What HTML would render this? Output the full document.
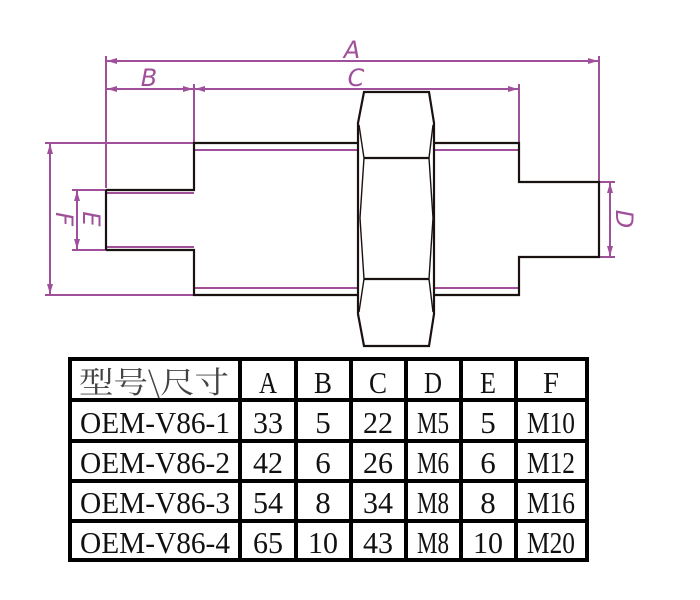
<!DOCTYPE html>
<html><head><meta charset="utf-8"><style>
html,body{margin:0;padding:0;background:#fff;width:700px;height:600px;overflow:hidden}
svg{position:absolute;left:0;top:0}
.t{font-family:"Liberation Serif","Noto Serif CJK SC",serif;font-size:31px;fill:#111;text-anchor:middle}
.d{font-family:"DejaVu Sans","Liberation Sans",sans-serif;font-size:24px;fill:#a0509a;font-style:italic;text-anchor:middle;font-weight:200}
</style></head><body>
<svg width="700" height="600" viewBox="0 0 700 600">
<defs>
<marker id="ar" viewBox="0 0 10 6" refX="10" refY="3" markerWidth="10" markerHeight="6" orient="auto-start-reverse" markerUnits="userSpaceOnUse"><path d="M0,0L10,3L0,6z" fill="#a0509a"/></marker>
</defs>
<g stroke="#a0509a" stroke-width="2" fill="none">
<line x1="106" y1="56" x2="106" y2="188"/>
<line x1="194" y1="84" x2="194" y2="143"/>
<line x1="519" y1="84" x2="519" y2="143"/>
<line x1="599" y1="56" x2="599" y2="182"/>
<line x1="45" y1="143" x2="194" y2="143"/>
<line x1="45" y1="295" x2="194" y2="295"/>
<line x1="72" y1="190" x2="106" y2="190"/>
<line x1="72" y1="250" x2="106" y2="250"/>
<line x1="599" y1="182" x2="615" y2="182"/>
<line x1="599" y1="257" x2="615" y2="257"/>
<line x1="107" y1="61" x2="598" y2="61" marker-start="url(#ar)" marker-end="url(#ar)"/>
<line x1="107" y1="89" x2="193" y2="89" marker-start="url(#ar)" marker-end="url(#ar)"/>
<line x1="195" y1="89" x2="518" y2="89" marker-start="url(#ar)" marker-end="url(#ar)"/>
<line x1="50" y1="144" x2="50" y2="294" marker-start="url(#ar)" marker-end="url(#ar)"/>
<line x1="77" y1="191" x2="77" y2="249" marker-start="url(#ar)" marker-end="url(#ar)"/>
<line x1="610" y1="183" x2="610" y2="256" marker-start="url(#ar)" marker-end="url(#ar)"/>
<line x1="194" y1="150" x2="358" y2="150"/>
<line x1="434" y1="150" x2="519" y2="150"/>
<line x1="194" y1="288" x2="358" y2="288"/>
<line x1="434" y1="288" x2="519" y2="288"/>
<line x1="106" y1="193" x2="194" y2="193"/>
<line x1="106" y1="247" x2="194" y2="247"/>
</g>
<text class="d" x="352" y="58">A</text>
<text class="d" x="149" y="86">B</text>
<text class="d" x="356" y="86">C</text>
<text class="d" transform="translate(56,219) rotate(90)">F</text>
<text class="d" transform="translate(83,219) rotate(90)">E</text>
<text class="d" transform="translate(616,219) rotate(90)">D</text>
<g stroke="#1a1210" stroke-width="2.2" fill="none">
<polyline points="106,190 194,190 194,143 358,143"/>
<polyline points="106,250 194,250 194,295 358,295"/>
<line x1="106" y1="190" x2="106" y2="250"/>
<polyline points="434,143 519,143 519,182 599,182 599,257 519,257 519,295 434,295"/>
<polygon points="364,92 429,92 434,123 434,314 429,346 364,346 358,314 358,123"/>
<line x1="364" y1="158" x2="429" y2="158"/>
<line x1="364" y1="279" x2="429" y2="279"/>
<polyline stroke-width="1.4" points="359,125 364,158 360,218 364,279 359,312"/>
<polyline stroke-width="1.4" points="433,125 429,158 433,218 429,279 433,312"/>
</g>
<g stroke="#000" stroke-width="4" fill="none">
<rect x="70" y="359" width="517" height="201"/>
<line x1="70" y1="400" x2="587" y2="400"/>
<line x1="70" y1="441" x2="587" y2="441"/>
<line x1="70" y1="481" x2="587" y2="481"/>
<line x1="70" y1="521" x2="587" y2="521"/>
<line x1="240" y1="359" x2="240" y2="560"/>
<line x1="296" y1="359" x2="296" y2="560"/>
<line x1="351" y1="359" x2="351" y2="560"/>
<line x1="406" y1="359" x2="406" y2="560"/>
<line x1="461" y1="359" x2="461" y2="560"/>
<line x1="516" y1="359" x2="516" y2="560"/>
</g>
<g class="t">
<text x="154" y="393" textLength="150" lengthAdjust="spacingAndGlyphs" style="font-family:'Noto Serif CJK SC','Liberation Serif',serif;font-size:30px;fill:#444">型号\尺寸</text>
<text x="268" y="393" textLength="18" lengthAdjust="spacingAndGlyphs">A</text><text x="323" y="393" textLength="18" lengthAdjust="spacingAndGlyphs">B</text><text x="378" y="393" textLength="18" lengthAdjust="spacingAndGlyphs">C</text><text x="433" y="393" textLength="18" lengthAdjust="spacingAndGlyphs">D</text><text x="488" y="393" textLength="16" lengthAdjust="spacingAndGlyphs">E</text><text x="551" y="393" textLength="16" lengthAdjust="spacingAndGlyphs">F</text>
</g>
<g class="t" lengthAdjust="spacingAndGlyphs">
<text x="155" y="433" textLength="150" lengthAdjust="spacingAndGlyphs">OEM-V86-1</text><text x="268" y="433" textLength="30" lengthAdjust="spacingAndGlyphs">33</text><text x="323" y="433">5</text><text x="378" y="433" textLength="30" lengthAdjust="spacingAndGlyphs">22</text><text x="433" y="433" textLength="32" lengthAdjust="spacingAndGlyphs">M5</text><text x="488" y="433">5</text><text x="551" y="433" textLength="48" lengthAdjust="spacingAndGlyphs">M10</text>
<text x="155" y="473" textLength="150" lengthAdjust="spacingAndGlyphs">OEM-V86-2</text><text x="268" y="473" textLength="30" lengthAdjust="spacingAndGlyphs">42</text><text x="323" y="473">6</text><text x="378" y="473" textLength="30" lengthAdjust="spacingAndGlyphs">26</text><text x="433" y="473" textLength="32" lengthAdjust="spacingAndGlyphs">M6</text><text x="488" y="473">6</text><text x="551" y="473" textLength="48" lengthAdjust="spacingAndGlyphs">M12</text>
<text x="155" y="513" textLength="150" lengthAdjust="spacingAndGlyphs">OEM-V86-3</text><text x="268" y="513" textLength="30" lengthAdjust="spacingAndGlyphs">54</text><text x="323" y="513">8</text><text x="378" y="513" textLength="30" lengthAdjust="spacingAndGlyphs">34</text><text x="433" y="513" textLength="32" lengthAdjust="spacingAndGlyphs">M8</text><text x="488" y="513">8</text><text x="551" y="513" textLength="48" lengthAdjust="spacingAndGlyphs">M16</text>
<text x="155" y="553" textLength="150" lengthAdjust="spacingAndGlyphs">OEM-V86-4</text><text x="268" y="553" textLength="30" lengthAdjust="spacingAndGlyphs">65</text><text x="323" y="553" textLength="30" lengthAdjust="spacingAndGlyphs">10</text><text x="378" y="553" textLength="30" lengthAdjust="spacingAndGlyphs">43</text><text x="433" y="553" textLength="32" lengthAdjust="spacingAndGlyphs">M8</text><text x="488" y="553" textLength="30" lengthAdjust="spacingAndGlyphs">10</text><text x="551" y="553" textLength="48" lengthAdjust="spacingAndGlyphs">M20</text>
</g>
</svg>
</body></html>
